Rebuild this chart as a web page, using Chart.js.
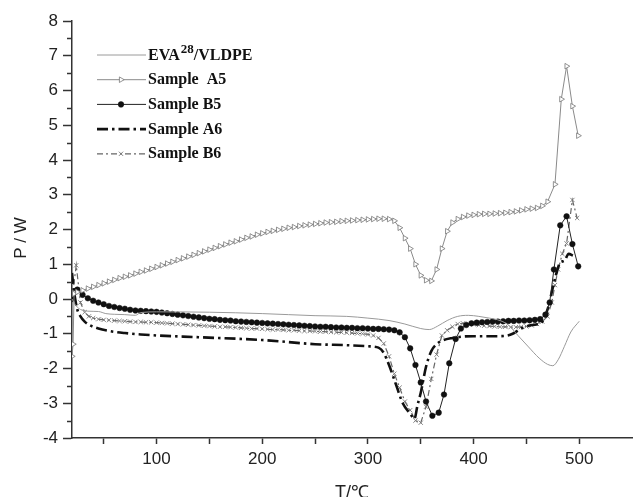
<!DOCTYPE html>
<html>
<head>
<meta charset="utf-8">
<script src="https://cdn.jsdelivr.net/npm/chart.js@4"></script>
<style>
    html, body { margin: 0; padding: 0; background: #fff; }
    #chart { display: block; }
</style>
</head>
<body>
<canvas id="chart" width="637" height="497"></canvas>
<script>
// [T (°C), P (W)]
const evaVldpe = [[20,0.0],[24,-0.2],[28,-0.3],[35,-0.35],[45,-0.36],[52,-0.42],[60,-0.44],[70,-0.45],[80,-0.47],[85,-0.39],[100,-0.37],[150,-0.38],[200,-0.42],[250,-0.48],[280,-0.5],[300,-0.55],[320,-0.62],[335,-0.72],[350,-0.85],[358,-0.88],[366,-0.78],[375,-0.62],[385,-0.5],[395,-0.47],[405,-0.5],[415,-0.55],[425,-0.62],[433,-0.75],[442,-1.05],[452,-1.38],[462,-1.7],[470,-1.88],[475,-1.92],[480,-1.75],[486,-1.36],[492,-0.95],[500,-0.64]];

const sampleA5 = [[20,-1.65],[21,-1.3],[22,0.15],[25,0.2],[30,0.25],[35,0.3],[40,0.35],[45,0.4],[50,0.45],[55,0.5],[60,0.55],[65,0.6],[70,0.64],[75,0.68],[80,0.73],[85,0.78],[90,0.82],[95,0.87],[100,0.92],[105,0.97],[110,1.02],[115,1.07],[120,1.12],[125,1.17],[130,1.22],[135,1.27],[140,1.32],[145,1.37],[150,1.42],[155,1.47],[160,1.52],[165,1.57],[170,1.62],[175,1.66],[180,1.71],[185,1.76],[190,1.8],[195,1.85],[200,1.89],[205,1.93],[210,1.96],[215,1.99],[220,2.02],[225,2.05],[230,2.07],[235,2.1],[240,2.12],[245,2.14],[250,2.16],[255,2.18],[260,2.2],[265,2.21],[270,2.22],[275,2.24],[280,2.25],[285,2.26],[290,2.27],[295,2.28],[300,2.29],[305,2.3],[310,2.31],[315,2.31],[320,2.3],[325,2.25],[330,2.05],[335,1.75],[340,1.45],[345,1.0],[350,0.68],[355,0.54],[360,0.52],[365,0.85],[370,1.45],[375,1.95],[380,2.2],[385,2.3],[390,2.36],[395,2.4],[400,2.42],[405,2.44],[410,2.45],[415,2.45],[420,2.46],[425,2.47],[430,2.48],[435,2.5],[440,2.52],[445,2.55],[450,2.58],[455,2.6],[460,2.62],[465,2.68],[470,2.8],[477,3.3],[483,5.75],[488,6.7],[493.5,5.55],[499,4.7]];

const sampleB5 = [[20,0.0],[25,0.27],[30,0.12],[35,0.02],[40,-0.05],[45,-0.1],[50,-0.15],[55,-0.2],[60,-0.23],[65,-0.26],[70,-0.28],[75,-0.31],[80,-0.33],[85,-0.34],[90,-0.35],[95,-0.36],[100,-0.37],[105,-0.39],[110,-0.41],[115,-0.43],[120,-0.45],[125,-0.47],[130,-0.49],[135,-0.51],[140,-0.53],[145,-0.55],[150,-0.57],[155,-0.58],[160,-0.6],[165,-0.61],[170,-0.62],[175,-0.64],[180,-0.65],[185,-0.66],[190,-0.67],[195,-0.68],[200,-0.69],[205,-0.7],[210,-0.71],[215,-0.72],[220,-0.73],[225,-0.74],[230,-0.75],[235,-0.76],[240,-0.77],[245,-0.78],[250,-0.79],[255,-0.8],[260,-0.8],[265,-0.81],[270,-0.82],[275,-0.82],[280,-0.83],[285,-0.83],[290,-0.84],[295,-0.84],[300,-0.85],[305,-0.86],[310,-0.86],[315,-0.87],[320,-0.88],[325,-0.9],[330,-0.96],[335,-1.1],[340,-1.42],[345,-1.9],[350,-2.4],[355,-2.95],[361,-3.36],[367,-3.27],[372,-2.75],[377,-1.85],[383,-1.15],[388,-0.85],[393,-0.75],[398,-0.7],[403,-0.68],[408,-0.67],[413,-0.66],[418,-0.65],[423,-0.65],[428,-0.64],[433,-0.63],[438,-0.63],[443,-0.62],[448,-0.62],[453,-0.61],[458,-0.6],[463,-0.58],[468,-0.45],[472,-0.1],[476,0.85],[482,2.12],[488,2.38],[493.5,1.58],[499,0.94]];

const sampleA6 = [[20,0.75],[22,0.2],[25,-0.3],[28,-0.5],[32,-0.65],[36,-0.74],[45,-0.85],[55,-0.92],[70,-0.98],[85,-1.02],[100,-1.05],[140,-1.1],[200,-1.18],[250,-1.3],[280,-1.33],[300,-1.36],[310,-1.4],[315,-1.55],[320,-1.9],[327,-2.5],[333,-3.0],[340,-3.3],[344,-3.45],[347,-3.05],[350,-2.7],[355,-1.95],[360,-1.5],[365,-1.3],[370,-1.2],[380,-1.12],[390,-1.08],[400,-1.07],[420,-1.07],[430,-1.06],[437,-1.0],[445,-0.85],[455,-0.75],[464,-0.68],[470,-0.3],[474,0.2],[478,0.7],[482,1.05],[486,1.1],[490,1.3],[494,1.25]];

const sampleB6 = [[20,0.0],[24,0.97],[28,-0.1],[32,-0.38],[36,-0.5],[40,-0.55],[45,-0.58],[50,-0.6],[55,-0.61],[60,-0.62],[65,-0.63],[70,-0.64],[75,-0.65],[80,-0.66],[85,-0.66],[90,-0.67],[95,-0.67],[100,-0.68],[105,-0.69],[110,-0.7],[115,-0.71],[120,-0.72],[125,-0.73],[130,-0.74],[135,-0.75],[140,-0.76],[145,-0.77],[150,-0.78],[155,-0.79],[160,-0.8],[165,-0.8],[170,-0.81],[175,-0.82],[180,-0.83],[185,-0.84],[190,-0.85],[195,-0.85],[200,-0.86],[205,-0.87],[210,-0.88],[215,-0.88],[220,-0.89],[225,-0.9],[230,-0.9],[235,-0.91],[240,-0.92],[245,-0.92],[250,-0.93],[255,-0.94],[260,-0.94],[265,-0.95],[270,-0.96],[275,-0.96],[280,-0.97],[285,-0.98],[290,-0.99],[295,-1.0],[300,-1.02],[305,-1.05],[310,-1.12],[315,-1.28],[320,-1.65],[325,-2.15],[330,-2.55],[335,-2.95],[340,-3.2],[345,-3.5],[350,-3.56],[355,-3.1],[360,-2.3],[365,-1.6],[370,-1.05],[375,-0.9],[380,-0.8],[385,-0.72],[390,-0.7],[395,-0.71],[400,-0.73],[405,-0.75],[410,-0.77],[415,-0.78],[420,-0.79],[425,-0.8],[430,-0.8],[435,-0.81],[440,-0.81],[445,-0.8],[450,-0.79],[455,-0.76],[460,-0.72],[465,-0.65],[470,-0.5],[474,-0.1],[477,0.4],[480,0.85],[484,1.3],[488,1.6],[493.5,2.85],[498,2.33]];

const xTicks = [50, 100, 150, 200, 250, 300, 350, 400, 450, 500];
const yTicks = [-4, -3.5, -3, -2.5, -2, -1.5, -1, -0.5, 0, 0.5, 1, 1.5, 2, 2.5, 3, 3.5, 4, 4.5, 5, 5.5, 6, 6.5, 7, 7.5, 8];

const toPoints = arr => arr.map(p => ({ x: p[0], y: p[1] }));

// legend entries drawn by hand (superscript in the first label)
const legendLabels = [
    { main: 'EVA', sup: '28', rest: '/VLDPE' },
    { main: 'Sample  A5' },
    { main: 'Sample B5' },
    { main: 'Sample A6' },
    { main: 'Sample B6' }
];

const legendPlugin = {
    id: 'handLegend',
    afterDraw(chart) {
        const ctx = chart.ctx;
        chart.data.datasets.forEach((ds, i) => {
            const base = 59.5 + i * 24.7;
            const y = base - 4.5;
            ctx.save();
            ctx.strokeStyle = ds.borderColor;
            ctx.lineWidth = ds.borderWidth;
            ctx.setLineDash(ds.borderDash || []);
            ctx.beginPath();
            ctx.moveTo(97, y);
            ctx.lineTo(146, y);
            ctx.stroke();
            ctx.setLineDash([]);
            if (ds.pointRadius > 0) {
                ctx.fillStyle = ds.pointBackgroundColor;
                ctx.strokeStyle = ds.pointBorderColor;
                ctx.lineWidth = ds.pointBorderWidth;
                Chart.helpers.drawPoint(ctx, {
                    pointStyle: ds.pointStyle,
                    radius: ds.pointRadius,
                    rotation: ds.pointRotation || 0,
                    borderWidth: ds.pointBorderWidth
                }, 121, y);
            }
            const lab = legendLabels[i];
            ctx.fillStyle = '#111';
            ctx.textBaseline = 'alphabetic';
            ctx.font = 'bold 16px "Liberation Serif"';
            let x = 148;
            ctx.fillText(lab.main, x, base);
            x += ctx.measureText(lab.main).width;
            if (lab.sup) {
                ctx.font = 'bold 13px "Liberation Serif"';
                ctx.fillText(lab.sup, x + 1, base - 7);
                x += ctx.measureText(lab.sup).width + 1;
                ctx.font = 'bold 16px "Liberation Serif"';
                ctx.fillText(lab.rest, x, base);
            }
            ctx.restore();
        });
    }
};

// minor ticks on the y axis and the two axis titles
const axisExtras = {
    id: 'axisExtras',
    afterDraw(chart) {
        const ctx = chart.ctx;
        const ys = chart.scales.y;
        ctx.save();
        ctx.strokeStyle = '#333';
        ctx.lineWidth = 1.5;
        yTicks.forEach(v => {
            if (Number.isInteger(v)) return;
            const py = Math.round(ys.getPixelForValue(v)) + 0.5;
            ctx.beginPath();
            ctx.moveTo(ys.right - 5, py);
            ctx.lineTo(ys.right, py);
            ctx.stroke();
        });
        ctx.fillStyle = '#222';
        ctx.font = '17px "Liberation Sans"';
        ctx.textAlign = 'center';
        ctx.textBaseline = 'middle';
        ctx.translate(21, 238);
        ctx.rotate(-Math.PI / 2);
        ctx.fillText('P / W', 0, 0);
        ctx.restore();

        ctx.save();
        ctx.fillStyle = '#222';
        ctx.font = '18px "Liberation Sans"';
        ctx.textAlign = 'center';
        ctx.textBaseline = 'alphabetic';
        ctx.fillText('T/℃', 352, 498);
        ctx.restore();
    }
};

const grey = '#8a8a8a';

new Chart(document.getElementById('chart'), {
    type: 'line',
    data: {
        datasets: [
            {
                label: 'EVA28/VLDPE',
                data: toPoints(evaVldpe),
                borderColor: '#9a9a9a',
                borderWidth: 1,
                pointRadius: 0,
                cubicInterpolationMode: 'monotone'
            },
            {
                label: 'Sample A5',
                data: toPoints(sampleA5),
                borderColor: grey,
                borderWidth: 1,
                pointStyle: 'triangle',
                pointRotation: 90,
                pointRadius: 3.2,
                pointBorderColor: '#777',
                pointBackgroundColor: '#fff',
                pointBorderWidth: 0.8
            },
            {
                label: 'Sample B5',
                data: toPoints(sampleB5),
                borderColor: '#222',
                borderWidth: 1,
                pointStyle: 'circle',
                pointRadius: 2.8,
                pointBorderColor: '#111',
                pointBackgroundColor: '#111',
                pointBorderWidth: 0.5
            },
            {
                label: 'Sample A6',
                data: toPoints(sampleA6),
                borderColor: '#111',
                borderWidth: 2.6,
                borderDash: [11, 4, 2.5, 4],
                pointRadius: 0,
                cubicInterpolationMode: 'monotone'
            },
            {
                label: 'Sample B6',
                data: toPoints(sampleB6),
                borderColor: '#666',
                borderWidth: 1.2,
                borderDash: [6, 3, 2, 3],
                pointStyle: 'crossRot',
                pointRadius: 3,
                pointBorderColor: '#777',
                pointBackgroundColor: '#777',
                pointBorderWidth: 0.9
            }
        ]
    },
    options: {
        responsive: false,
        animation: false,
        layout: { padding: { top: 21, right: 0, left: 0, bottom: 0 } },
        plugins: {
            legend: { display: false },
            tooltip: { enabled: false }
        },
        scales: {
            x: {
                type: 'linear',
                min: 20,
                max: 550,
                afterBuildTicks: scale => { scale.ticks = xTicks.map(v => ({ value: v })); },
                afterFit: scale => { scale.height = 59; },
                border: { display: true, color: '#333', width: 1.5 },
                grid: { drawOnChartArea: false, drawTicks: true, tickLength: 6, tickColor: '#333', tickWidth: 1.5 },
                ticks: {
                    autoSkip: false,
                    maxRotation: 0,
                    padding: 5,
                    color: '#222',
                    font: { family: 'Liberation Sans', size: 17 },
                    callback: v => (v % 100 === 0 ? String(v) : '')
                }
            },
            y: {
                type: 'linear',
                min: -4,
                max: 8,
                afterBuildTicks: scale => { scale.ticks = yTicks.map(v => ({ value: v })); },
                afterFit: scale => { scale.width = 72; },
                border: { display: true, color: '#333', width: 1.5 },
                grid: {
                    drawOnChartArea: false,
                    drawTicks: true,
                    tickLength: 9,
                    tickWidth: 1.5,
                    tickColor: c => (Number.isInteger(c.tick.value) ? '#333' : 'rgba(0,0,0,0)')
                },
                ticks: {
                    autoSkip: false,
                    padding: 5,
                    color: '#222',
                    font: { family: 'Liberation Sans', size: 17 },
                    callback: v => (Number.isInteger(v) ? String(v) : '')
                }
            }
        }
    },
    plugins: [legendPlugin, axisExtras]
});
</script>
</body>
</html>
